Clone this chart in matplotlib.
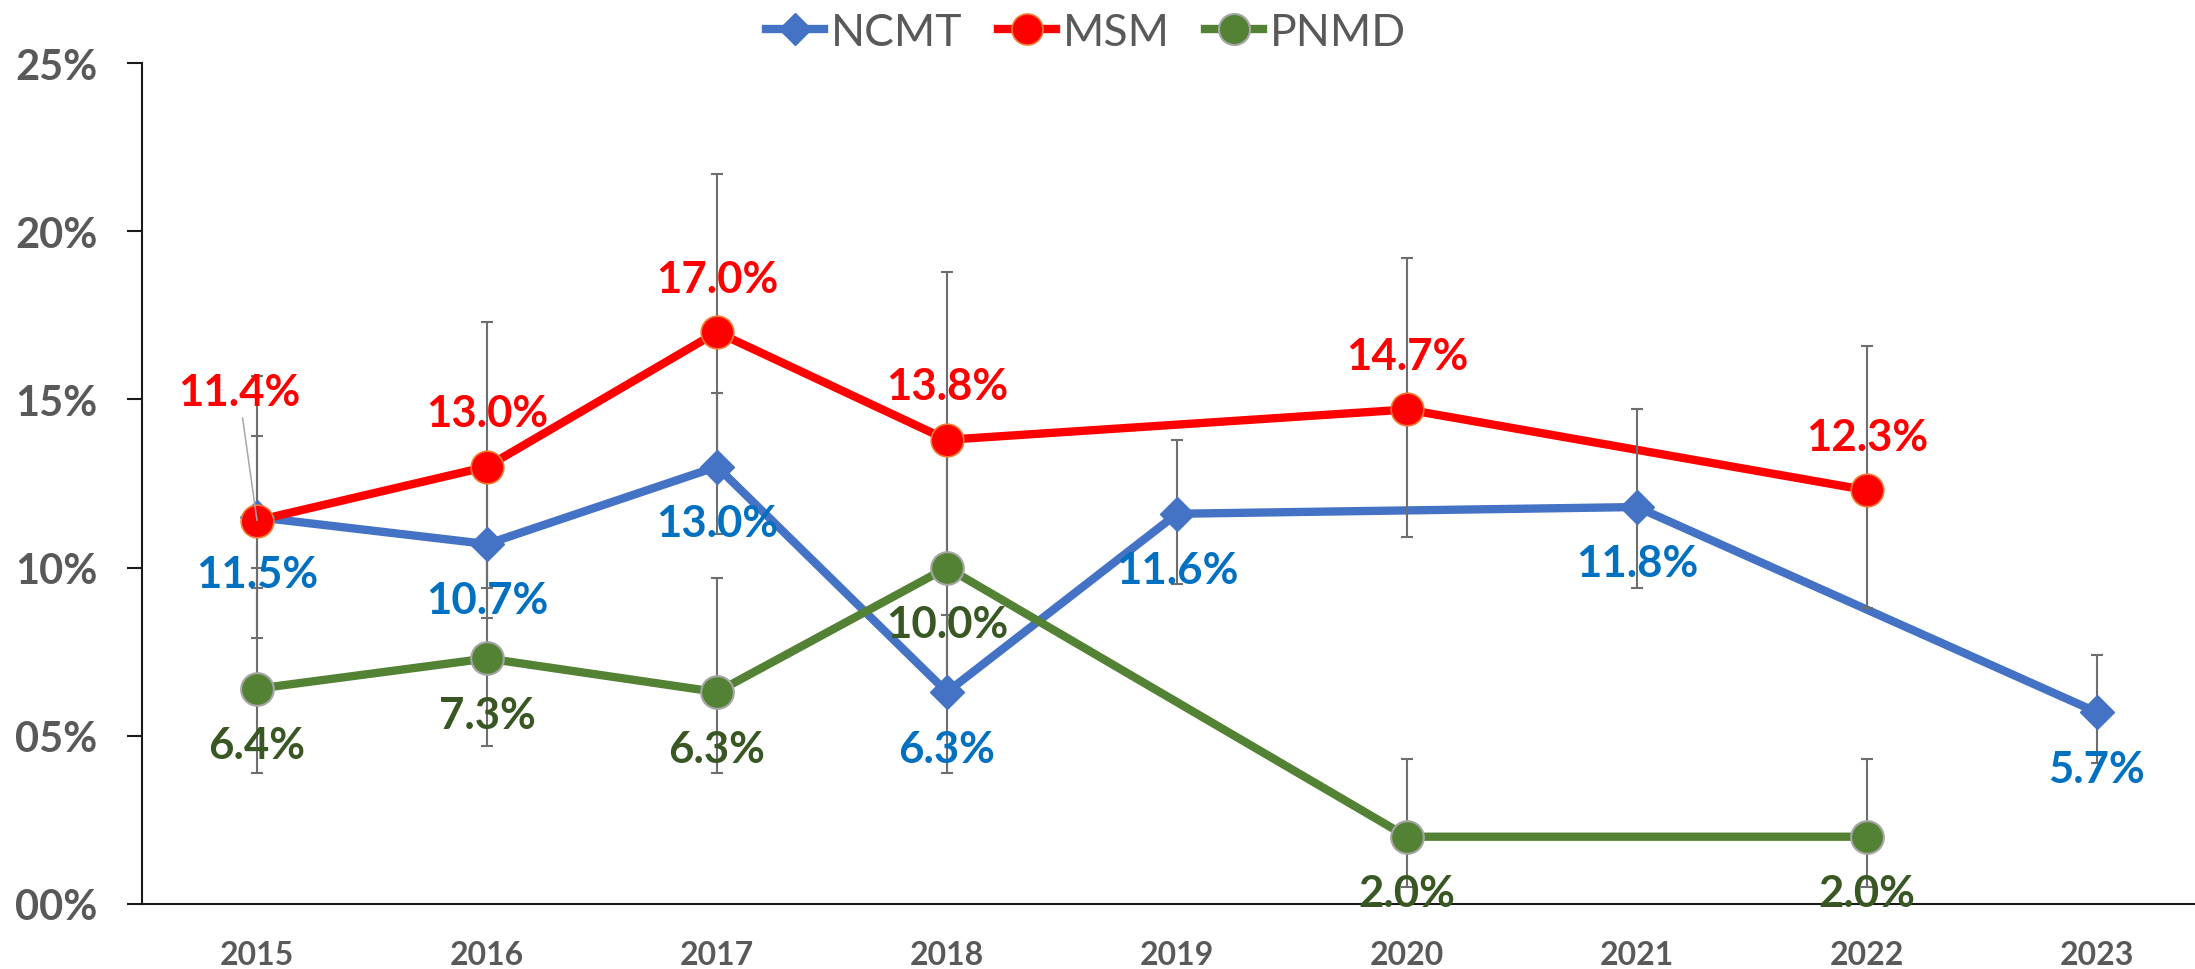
import matplotlib
matplotlib.use("Agg")
import matplotlib.pyplot as plt
from matplotlib.lines import Line2D
from matplotlib.ticker import FixedLocator, FuncFormatter

plt.rcParams["font.family"] = ["Lato", "DejaVu Sans"]

years = ["2015", "2016", "2017", "2018", "2019", "2020", "2021", "2022", "2023"]

# Prevalence (%) with lower / upper confidence limits; None = no survey that year
ncmt = [11.5, 10.7, 13.0, 6.3, 11.6, None, 11.8, None, 5.7]
ncmt_low = [9.4, 8.5, 11.0, 3.9, 9.5, None, 9.4, None, 4.2]
ncmt_high = [13.9, 13.0, 15.2, 8.6, 13.8, None, 14.7, None, 7.4]

msm = [11.4, 13.0, 17.0, 13.8, None, 14.7, None, 12.3, None]
msm_low = [7.9, 9.4, 12.8, 10.0, None, 10.9, None, 8.8, None]
msm_high = [15.7, 17.3, 21.7, 18.8, None, 19.2, None, 16.6, None]

pnmd = [6.4, 7.3, 6.3, 10.0, None, 2.0, None, 2.0, None]
pnmd_low = [3.9, 4.7, 3.9, 6.6, None, 0.5, None, 0.5, None]
pnmd_high = [10.0, 10.7, 9.7, 13.8, None, 4.3, None, 4.3, None]

y_ticks = [0, 5, 10, 15, 20, 25]

W, H = 2195, 970
fig = plt.figure(figsize=(W / 100, H / 100), dpi=100)
ax = fig.add_axes([142 / W, 1 - 905 / H, 2070 / W, (905 - 64) / H])

ERR_COLOR = "#6E6E6E"
TEXT_GRAY = "#595959"
LABEL_SIZE = 31.5

series = [
    dict(name="NCMT", vals=ncmt, lo=ncmt_low, hi=ncmt_high, color="#4472C4",
         marker="D", ms=17, mec="#4472C4", mew=1, label_color="#0070C0", above=False, z=3),
    dict(name="MSM", vals=msm, lo=msm_low, hi=msm_high, color="#FF0000",
         marker="o", ms=23.5, mec="#ED7D31", mew=1.2, label_color="#FF0000", above=True, z=4),
    dict(name="PNMD", vals=pnmd, lo=pnmd_low, hi=pnmd_high, color="#548235",
         marker="o", ms=23.5, mec="#A5A5A5", mew=1.5, label_color="#385723", above=False, z=5),
]

handles = []
for s in series:
    idx = [i for i, v in enumerate(s["vals"]) if v is not None]
    xs = idx
    ys = [s["vals"][i] for i in idx]
    lo = [s["vals"][i] - s["lo"][i] for i in idx]
    hi = [s["hi"][i] - s["vals"][i] for i in idx]
    # connecting line (gaps bridged)
    ax.plot(xs, ys, color=s["color"], lw=6, solid_capstyle="round",
            zorder=s["z"], clip_on=False)
    # confidence intervals
    ax.errorbar(xs, ys, yerr=[lo, hi], fmt="none", ecolor=ERR_COLOR,
                elinewidth=1.5, capsize=4, capthick=1.5, zorder=6, clip_on=False)
    # markers
    ax.plot(xs, ys, ls="none", marker=s["marker"], ms=s["ms"],
            mfc=s["color"], mec=s["mec"], mew=s["mew"], zorder=7 + s["z"], clip_on=False)
    handles.append(Line2D([0], [0], color=s["color"], lw=6, marker=s["marker"],
                          ms=s["ms"] * 0.95, mfc=s["color"], mec=s["mec"], mew=s["mew"]))

    for x, y in zip(xs, ys):
        txt = f"{y:.1f}%"
        if s["name"] == "MSM" and x == 0:
            ax.annotate(txt, xy=(x, y), xytext=(-13, 83), textcoords="offset points",
                        ha="center", va="baseline", fontsize=LABEL_SIZE, fontweight="bold",
                        color=s["label_color"], zorder=20,
                        arrowprops=dict(arrowstyle="-", color="#A6A6A6", lw=1.1,
                                        shrinkA=2, shrinkB=0))
            continue
        dy = 29 if s["above"] else -50
        ax.annotate(txt, xy=(x, y), xytext=(0, dy), textcoords="offset points",
                    ha="center", va="baseline", fontsize=LABEL_SIZE, fontweight="bold",
                    color=s["label_color"], zorder=20)

ax.set_xlim(-0.5, len(years) - 0.5)
ax.set_ylim(0, 25)
ax.set_xticks(range(len(years)))
ax.set_xticklabels(years)
ax.yaxis.set_major_locator(FixedLocator(y_ticks))
ax.yaxis.set_major_formatter(FuncFormatter(lambda v, p: f"{v:02.0f}%"))

for side in ("top", "right"):
    ax.spines[side].set_visible(False)
for side in ("left", "bottom"):
    ax.spines[side].set_color("#1A1A1A")
    ax.spines[side].set_linewidth(1.5)

ax.tick_params(axis="y", direction="out", length=11, width=1.5, color="#1A1A1A",
               pad=21, labelsize=30, labelcolor=TEXT_GRAY)
ax.tick_params(axis="x", length=0, pad=26, labelsize=23, labelcolor=TEXT_GRAY)
for lab in ax.get_xticklabels() + ax.get_yticklabels():
    lab.set_fontweight("bold")

fig.legend(handles, [s["name"] for s in series], loc="center",
           bbox_to_anchor=(1086 / W, 1 - 33 / H), ncol=3, frameon=False,
           fontsize=32, labelcolor=TEXT_GRAY, handlelength=1.3,
           handletextpad=0.15, columnspacing=0.8, borderpad=0)

fig.savefig("out.png", dpi=100)
